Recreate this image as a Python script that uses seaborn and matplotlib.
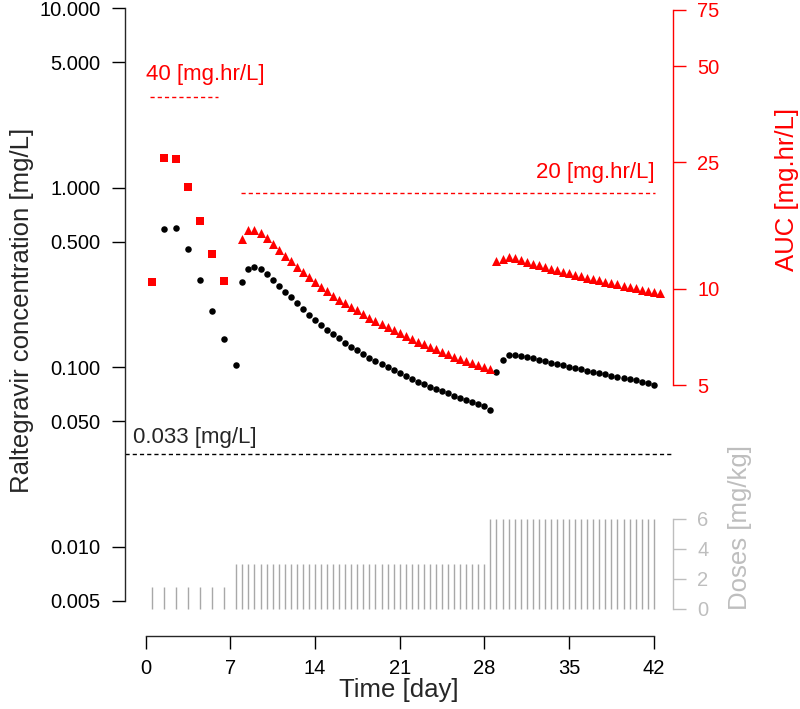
"""Raltegravir concentration, AUC and dosing schedule over the first six weeks."""

import numpy as np
import pandas as pd
import matplotlib
matplotlib.use("Agg")
import matplotlib.pyplot as plt
import seaborn as sns

sns.set_style("ticks")
plt.rcParams["font.family"] = ["Liberation Sans", "DejaVu Sans"]

RED = "#FF0000"
GREY = "#BEBEBE"
BAR_GREY = "#A8A8A8"

# --- data ------------------------------------------------------------------
# week 1: once daily 1.5 mg/kg
conc_w1_day = np.arange(1.5, 8.0, 1.0)
conc_w1 = [0.586, 0.598, 0.455, 0.307, 0.206, 0.143, 0.103]
auc_w1_day = np.arange(0.5, 7.0, 1.0)
auc_w1 = [10.5, 25.8, 25.6, 20.9, 16.3, 12.9, 10.6]

# weeks 2-4: twice daily 3 mg/kg
conc_w2_day = np.arange(8.0, 28.75, 0.5)
conc_w2 = [0.298, 0.354, 0.361, 0.351, 0.332, 0.307, 0.284, 0.263, 0.245,
           0.227, 0.210, 0.196, 0.183, 0.172, 0.161, 0.153, 0.145, 0.137,
           0.130, 0.124, 0.118, 0.113, 0.108, 0.104, 0.0999, 0.0961, 0.0925,
           0.0890, 0.0860, 0.0831, 0.0806, 0.0779, 0.0756, 0.0737, 0.0716,
           0.0694, 0.0674, 0.0657, 0.0638, 0.0622, 0.0606, 0.0578]
auc_w2_day = np.arange(8.0, 28.75, 0.5)
auc_w2 = [14.35, 15.28, 15.31, 14.95, 14.42, 13.84, 13.25, 12.72, 12.24,
          11.75, 11.30, 10.91, 10.52, 10.17, 9.83, 9.53, 9.26, 9.02, 8.78,
          8.58, 8.35, 8.13, 7.95, 7.78, 7.60, 7.44, 7.28, 7.12, 6.97, 6.83,
          6.72, 6.59, 6.47, 6.35, 6.24, 6.13, 6.03, 5.93, 5.85, 5.77, 5.68,
          5.60]

# weeks 5-6: twice daily 6 mg/kg
conc_w5_day = np.arange(29.0, 42.25, 0.5)
conc_w5 = [0.0944, 0.1103, 0.1162, 0.1165, 0.1159, 0.1137, 0.1121, 0.1103,
           0.1082, 0.1059, 0.1039, 0.1025, 0.1009, 0.0992, 0.0973, 0.0958,
           0.0943, 0.0928, 0.0913, 0.0899, 0.0885, 0.0873, 0.0858, 0.0846,
           0.0830, 0.0815, 0.0796]
auc_w5_day = np.arange(29.0, 42.75, 0.5)
auc_w5 = [12.21, 12.44, 12.57, 12.49, 12.31, 12.12, 11.99, 11.85, 11.72,
          11.58, 11.44, 11.30, 11.20, 11.09, 10.97, 10.86, 10.76, 10.65,
          10.54, 10.44, 10.34, 10.24, 10.16, 10.06, 9.96, 9.88, 9.80, 9.68]

dose_day = np.concatenate([np.arange(0.5, 7.0, 1.0),
                           np.arange(7.5, 28.25, 0.5),
                           np.arange(28.5, 42.25, 0.5)])
dose_mgkg = [1.5] * 7 + [3.0] * 42 + [6.0] * 28

conc_target = 0.033
auc_target_w1 = 40
auc_target_later = 20

x_ticks = [0, 7, 14, 21, 28, 35, 42]
conc_ticks = [10, 5, 1, 0.5, 0.1, 0.05, 0.01, 0.005]
auc_ticks = [5, 10, 25, 50, 75]
dose_ticks = [0, 2, 4, 6]

conc_df = pd.DataFrame({
    "day": np.concatenate([conc_w1_day, conc_w2_day, conc_w5_day]),
    "conc": conc_w1 + conc_w2 + conc_w5,
})
auc_sq = pd.DataFrame({"day": auc_w1_day, "auc": auc_w1})
auc_tri = pd.DataFrame({
    "day": np.concatenate([auc_w2_day, auc_w5_day]),
    "auc": auc_w2 + auc_w5,
})

# --- figure ------------------------------------------------------------------
W, H = 800, 709
fig = plt.figure(figsize=(W / 100, H / 100), dpi=100)
ax = fig.add_axes([125 / W, (H - 636) / H, (673 - 125) / W, (636 - 8) / H])
ax.set_facecolor("none")

ax.set_yscale("log")
ax.set_xlim(-1.70, 43.59)
ax.set_ylim(10 ** (1 - 628 / 179.6), 10)

ax2 = ax.twinx()
ax2.set_yscale("log")
ax2.set_ylim(10 ** (0.699 - 251 / 319), 10 ** (0.699 + 377 / 319))

ax3 = ax.twinx()
ax3.set_ylim(-27 / 15, 601 / 15)

# doses
ax3.vlines(dose_day, 0, dose_mgkg, color=BAR_GREY, lw=1.0)

# reference lines
ax.axhline(conc_target, color="black", ls=(0, (3, 2.2)), lw=1.0)
ax.annotate(f"{conc_target} [mg/L]", xy=(-1.04, conc_target), xytext=(0, 12),
            textcoords="offset points", ha="left", va="center", fontsize=16)
ax2.hlines(auc_target_w1, 0.4, 6.0, color=RED, ls=(0, (3, 2.2)), lw=1.0)
ax2.annotate(f"{auc_target_w1} [mg.hr/L]", xy=(0.03, auc_target_w1),
             xytext=(0, 16), textcoords="offset points", ha="left",
             va="center", fontsize=16, color=RED)
ax2.hlines(auc_target_later, 7.9, 42.1, color=RED, ls=(0, (3, 2.2)), lw=1.0)
ax2.annotate(f"{auc_target_later} [mg.hr/L]", xy=(42.1, auc_target_later),
             xytext=(0, 14.4), textcoords="offset points", ha="right",
             va="center", fontsize=16, color=RED)

# points
sns.scatterplot(data=conc_df, x="day", y="conc", ax=ax, color="black",
                marker="o", s=22, linewidth=0, legend=False, zorder=3)
sns.scatterplot(data=auc_sq, x="day", y="auc", ax=ax2, color=RED,
                marker="s", s=32, linewidth=0, legend=False, zorder=3)
sns.scatterplot(data=auc_tri, x="day", y="auc", ax=ax2, color=RED,
                marker="^", s=42, linewidth=0, legend=False, zorder=3)

# axes styling (R base-graphics look)
tick_kw = dict(length=9.4, width=1.0, labelsize=14.5, pad=8)
for a in (ax, ax2, ax3):
    for s in a.spines.values():
        s.set_visible(False)
    a.minorticks_off()
    a.set_xlabel("")
    a.set_ylabel("")

ax.spines["left"].set_visible(True)
ax.spines["left"].set_bounds(0.005, 10)
ax.spines["bottom"].set_visible(True)
ax.spines["bottom"].set_bounds(0, 42)
ax.set_xticks(x_ticks)
ax.set_xticklabels([str(t) for t in x_ticks])
ax.set_yticks(conc_ticks)
ax.set_yticklabels([f"{t:.3f}" for t in conc_ticks])
ax.yaxis.set_minor_locator(matplotlib.ticker.NullLocator())
ax.tick_params(axis="both", colors="black", **tick_kw)
ax.tick_params(axis="x", pad=7)

ax2.spines["right"].set_visible(True)
ax2.spines["right"].set_bounds(5, 75)
ax2.spines["right"].set_color(RED)
ax2.set_yticks(auc_ticks)
ax2.set_yticklabels([str(t) for t in auc_ticks])
ax2.yaxis.set_minor_locator(matplotlib.ticker.NullLocator())
ax2.tick_params(axis="y", colors=RED, **tick_kw)

ax3.spines["right"].set_visible(True)
ax3.spines["right"].set_bounds(0, 6)
ax3.spines["right"].set_color(GREY)
ax3.set_yticks(dose_ticks)
ax3.set_yticklabels([str(t) for t in dose_ticks])
ax3.tick_params(axis="y", colors=GREY, **tick_kw)

for a in (ax, ax2, ax3):
    for s in a.spines.values():
        s.set_linewidth(1.0)

# axis titles
fig.text(22 / W, 1 - 310 / H, "Raltegravir concentration [mg/L]",
         rotation=90, ha="center", va="center", fontsize=18.5)
fig.text(399 / W, 1 - 690 / H, "Time [day]", ha="center", va="center",
         fontsize=18.5)
fig.text(787 / W, 1 - 189 / H, "AUC [mg.hr/L]", rotation=90, ha="center",
         va="center", fontsize=18.5, color=RED)
fig.text(740 / W, 1 - 528 / H, "Doses [mg/kg]", rotation=90, ha="center",
         va="center", fontsize=18.5, color=GREY)

fig.savefig("out.png", dpi=100)
